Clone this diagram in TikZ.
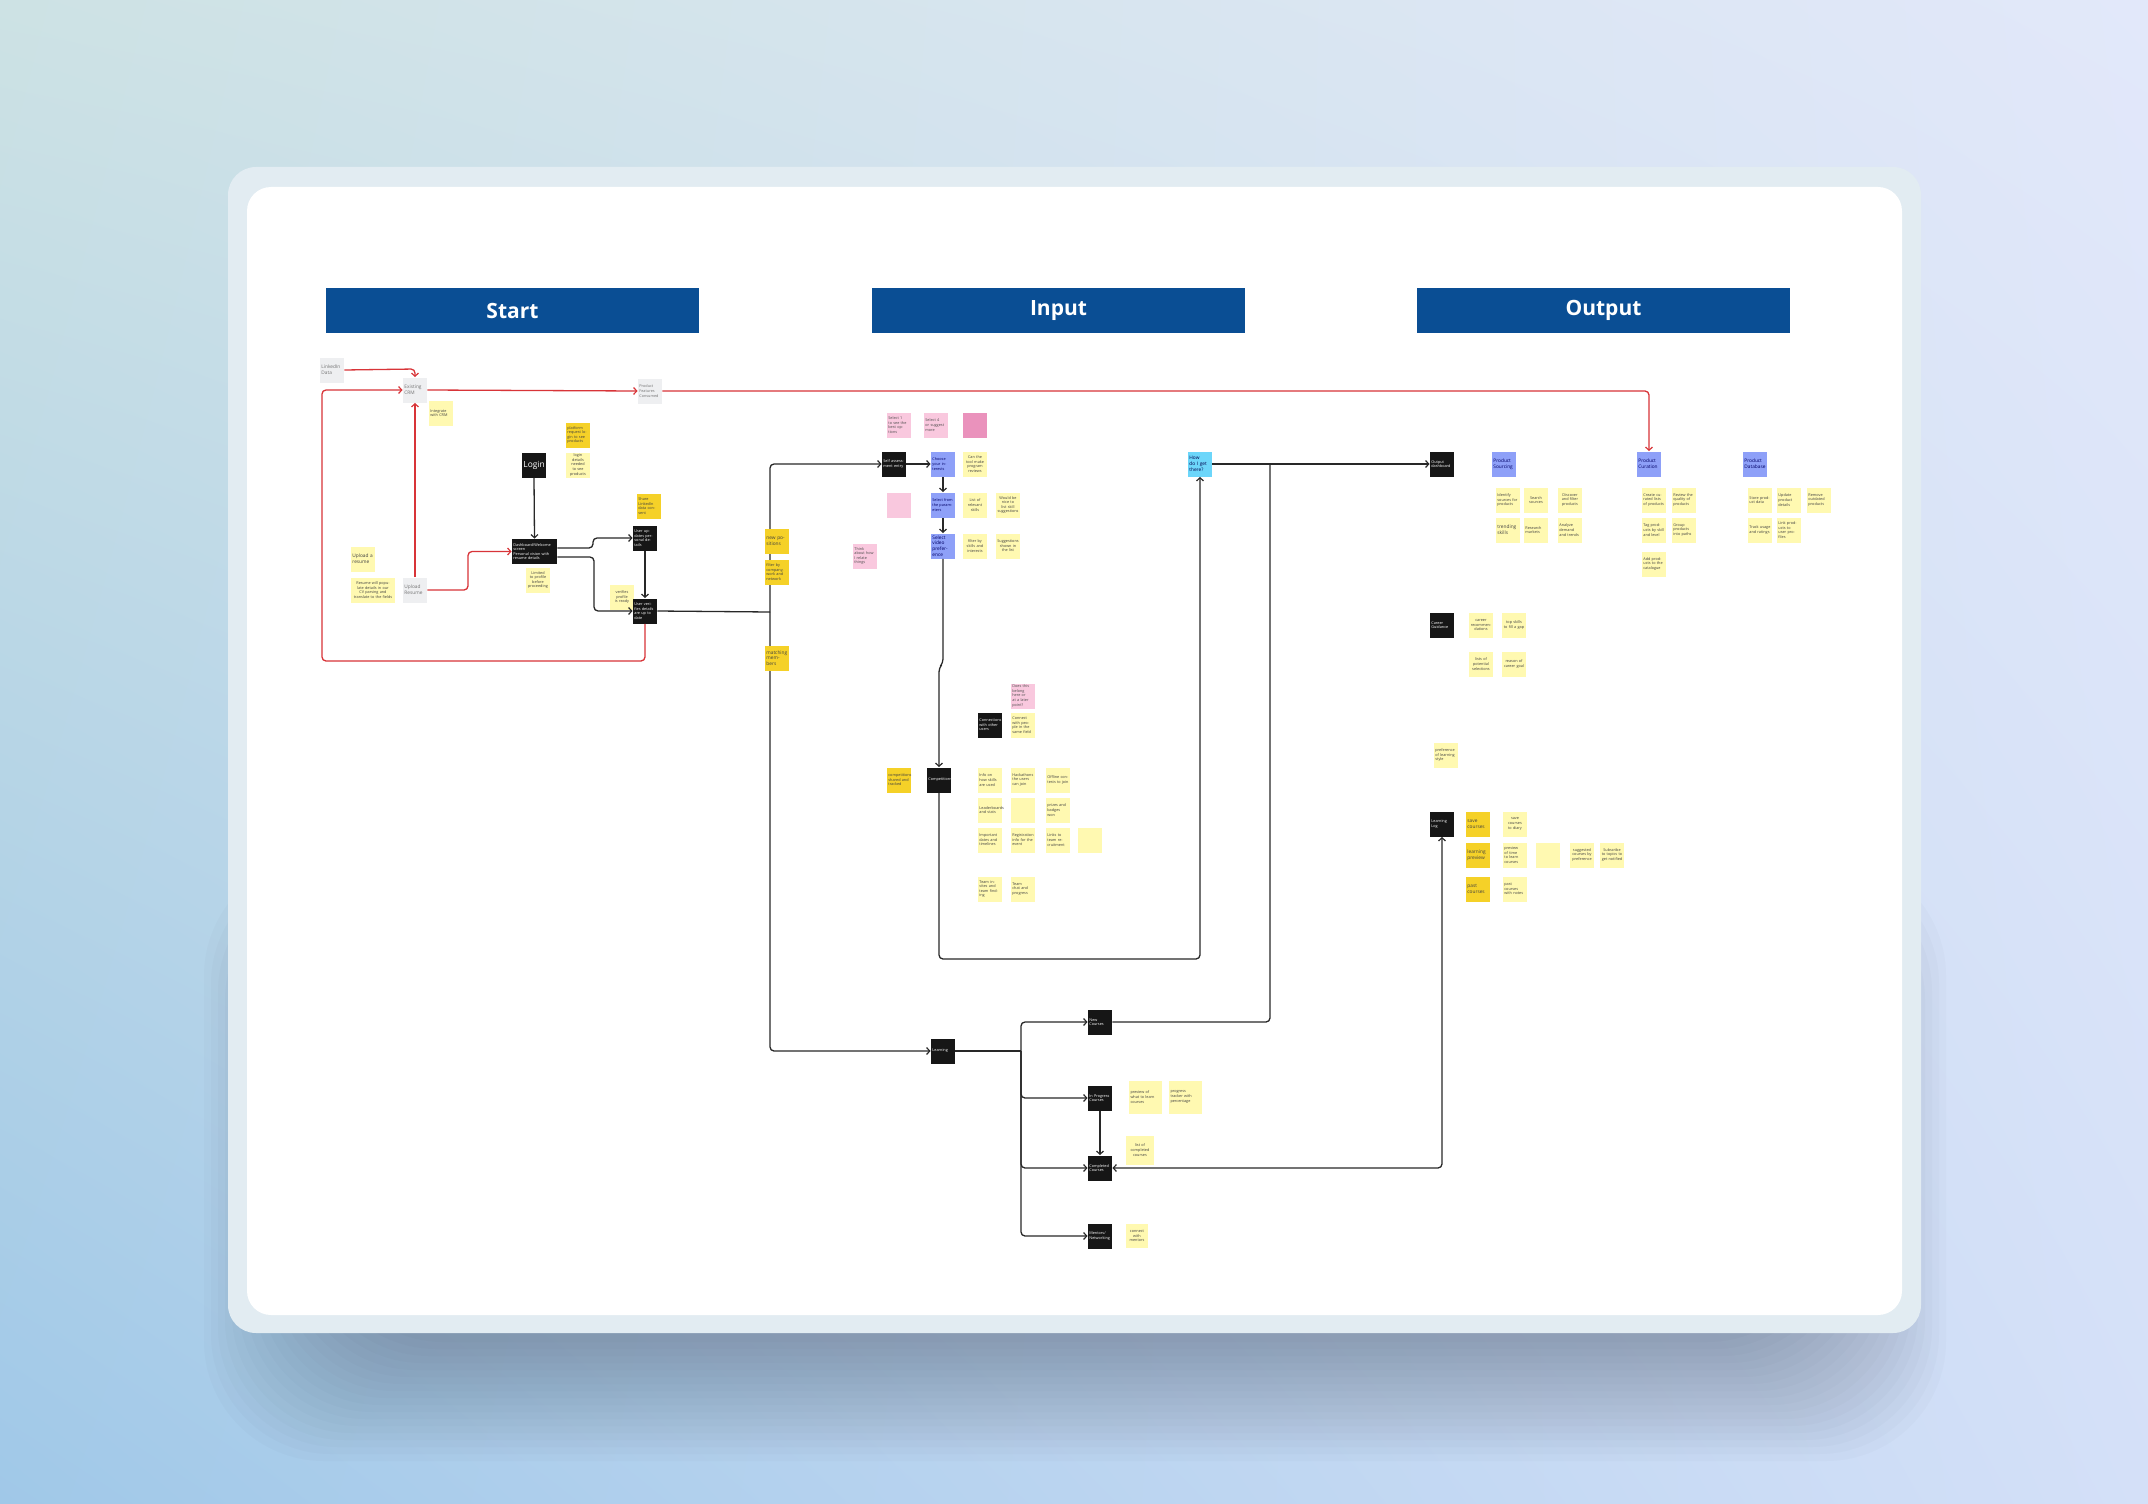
\documentclass[tikz,border=0pt]{standalone}
\usepackage{fontspec}
\setmainfont{Open Sans}
\usetikzlibrary{arrows.meta,calc,shadings}
\definecolor{hdr}{RGB}{10,78,148}
\definecolor{ylw}{RGB}{255,249,177}
\definecolor{gld}{RGB}{245,209,40}
\definecolor{pnk}{RGB}{249,200,222}
\definecolor{dpk}{RGB}{234,146,188}
\definecolor{blu}{RGB}{142,160,248}
\definecolor{cyn}{RGB}{108,214,250}
\definecolor{gry}{RGB}{238,239,241}
\definecolor{redl}{RGB}{216,52,56}
\definecolor{blk}{RGB}{22,22,22}
\definecolor{lnk}{RGB}{40,40,40}
\definecolor{bgTL}{RGB}{205,226,228}
\definecolor{bgTR}{RGB}{226,232,250}
\definecolor{bgBL}{RGB}{160,200,232}
\definecolor{bgBR}{RGB}{212,224,248}
\definecolor{frm}{RGB}{226,236,242}
\definecolor{shd}{RGB}{60,70,90}
\tikzset{
  sticky/.style={minimum width=12pt, minimum height=12.5pt, inner sep=0.7pt,
    text width=10.6pt, align=left, font=\fontsize{1.9}{2.3}\selectfont},
  big/.style={font=\fontsize{2.4}{2.9}\selectfont},
  ys/.style={sticky, fill=ylw, text=black!75},
  gs/.style={sticky, fill=gld, text=black!75},
  pks/.style={sticky, fill=pnk, text=black!70},
  dpks/.style={sticky, fill=dpk, text=black!70},
  bls/.style={sticky, fill=blu, text=blue!40!black},
  cys/.style={sticky, fill=cyn, text=blue!30!black},
  grs/.style={sticky, fill=gry, text=black!55},
  bks/.style={sticky, fill=blk, text=white},
  wide/.style={minimum width=22.5pt, text width=21.1pt},
  hdrbox/.style={fill=hdr, minimum width=186.5pt, minimum height=22.5pt, inner sep=0pt,
    text=white, font=\fontsize{10.5}{12}\selectfont\bfseries},
  arr/.style={draw=lnk, line width=0.65pt, rounded corners=2pt,
    -{Straight Barb[length=1.6pt,width=3.4pt,line width=0.6pt]}},
  ln/.style={draw=lnk, line width=0.65pt, rounded corners=2pt},
  rarr/.style={draw=redl, line width=0.65pt, rounded corners=2pt,
    -{Straight Barb[length=1.6pt,width=3.4pt,line width=0.6pt]}},
  darr/.style={draw=lnk, line width=0.65pt, rounded corners=2pt,
    {Straight Barb[length=1.6pt,width=3.4pt,line width=0.6pt]}-{Straight Barb[length=1.6pt,width=3.4pt,line width=0.6pt]}},
}
\begin{document}
\begin{tikzpicture}[x=0.5pt,y=-0.5pt]
\useasboundingbox (0,0) rectangle (2148,1504);
% background
\shade[upper left=bgTL, upper right=bgTR, lower left=bgBL, lower right=bgBR] (0,0) rectangle (2148,1504);
% card shadow
\foreach \i in {1,...,18}{
  \fill[shd, opacity=0.022, rounded corners=60pt] (330-\i*7,1000-\i*8) rectangle (1820+\i*7,1335+\i*7);
}
% card
\path[fill=frm, rounded corners=14pt] (228,167) rectangle (1921,1333);
\path[fill=white, rounded corners=12pt] (247,187) rectangle (1902,1315);

% headers
\node[hdrbox] (hS) at (512.5,310.5) {Start};
\node[hdrbox] (hI) at (1058.5,310.5) {Input};
\node[hdrbox] (hO) at (1603.5,310.5) {Output};

% ---------------- Start ----------------
\node[grs, big] (lkd) at (332,370) {LinkedIn Data};
\node[grs, big] (crm) at (415,390) {Existing CRM};
\node[ys] (int) at (441,413) {Integrate with CRM};
\node[grs] (pfc) at (650,391) {Product Features Consumed};
\node[grs, big] (upr) at (415,590) {Upload Resume};
\node[ys, big] (upa) at (363,559) {Upload a resume};
\node[ys, minimum width=22pt, text width=20.6pt, align=center] (upn) at (373,590) {Resume will populate details in our CV parsing and translate to the fields};
\node[bks, align=center, font=\fontsize{4.2}{5}\selectfont] (login) at (534,465) {Login};
\node[bks, wide] (dash) at (534.5,551.5) {Dashboard/Welcome screen\\Personal vision with resume details};
\node[ys, align=center] (dn) at (538,580) {Limited to profile before proceeding};
\node[gs] (g1) at (578,435) {platform request login to see products};
\node[ys, align=center] (y1) at (578,465) {login details needed to see products};
\node[gs] (g2) at (649,506) {Share LinkedIn data consent};
\node[bks] (upd) at (645,538) {User updates personal details};
\node[ys, align=center] (vn) at (622,597) {verifies profile is ready};
\node[bks] (ver) at (645,611) {User verifies details are up to date};

\coordinate (lkj) at (415,369);
\draw[rarr] (lkd.east) -- (lkj) -- (crm.north);
\draw[rarr] (crm.east) -- (pfc.west);
\draw[rarr] (upr.north) -- (crm.south);
\coordinate (rj) at (468,590);
\draw[rarr] (upr.east) -- (rj) |- (dash.west);
\coordinate (lpA) at (322,661);
\draw[rarr] (ver.south) |- (lpA) |- (crm.west);
\draw[arr] (login.south) -- (dash.north);
\coordinate (d1) at (593,548);
\coordinate (d2) at (594,557);
\draw[arr] ($(dash.east)+(0,-3.5)$) -- (d1) |- (upd.west);
\draw[arr] ($(dash.east)+(0,5.5)$) -- (d2) |- (ver.west);
\draw[arr] (upd.south) -- (ver.north);

% ---------------- trunk ----------------
\coordinate (tj) at (770,612);
\node[bks] (ai) at (894,464) {Self assessment entry};
\node[bks] (lrn) at (943,1051) {Learning};
\draw[ln] (ver.east) -- (tj);
\draw[arr] (tj) |- (ai.west);
\draw[arr] (tj) |- (lrn.west);
\node[gs, big] (t1) at (777,541) {new positions};
\node[gs] (t2) at (777,572) {filter by company, work and network};
\node[gs, big] (t3) at (777,658) {matching members};

% ---------------- Input ----------------
\node[pks] (p1) at (899,425) {Select 1 to see the best options};
\node[pks] (p2) at (936,425) {Select 4 or suggest more};
\node[dpks] (p3) at (975,425) {};
\node[bls] (b1) at (943,464) {Choose your interests};
\node[bls] (b2) at (943,505) {Select from the parameters};
\node[bls, big] (b3) at (943,546) {Select video preference};
\node[ys, align=center] (yl1) at (975,464) {Can the tool make program reviews};
\node[pks] (pk4) at (899,505) {};
\node[ys, align=center] (yl2) at (975,505) {List of relevant skills};
\node[ys, align=center] (yl3) at (1008,505) {Would be nice to list skill suggestions};
\node[ys, align=center] (yl4) at (975,546) {filter by skills and interests};
\node[ys, align=center] (yl5) at (1008,546) {Suggestions shown in the list};
\node[pks] (pk5) at (865,556) {Think about how I relate things};
\draw[arr] (ai.east) -- (b1.west);
\draw[arr] (b1.south) -- (b2.north);
\draw[arr] (b2.south) -- (b3.north);

\node[bks, align=center] (comp) at (939,780) {Competitions};
\node[gs] (cg) at (899,780) {competitions shared and tracked};
\coordinate (v1) at (943,663);
\coordinate (v2) at (939,668);
\draw[arr] (b3.south) -- (v1) -- (v2) -- (comp.north);

\node[pks] (pk6) at (1023,696) {Does this belong here or at a later point?};
\node[bks] (bk2) at (990,725) {Connections with other users};
\node[ys] (c0) at (1023,725) {Connect with people in the same field};
\node[ys] (c11) at (990,780) {Info on how skills are used};
\node[ys] (c12) at (1023,780) {Hackathons the users can join};
\node[ys] (c13) at (1058,780) {Offline contests to join};
\node[ys] (c21) at (990,810) {Leaderboards and stats};
\node[ys] (c22) at (1023,810) {};
\node[ys] (c23) at (1058,810) {prizes and badges won};
\node[ys] (c31) at (990,840) {Important dates and timelines};
\node[ys] (c32) at (1023,840) {Registration info for the event};
\node[ys] (c33) at (1058,840) {Links to team recruitment};
\node[ys] (c34) at (1090,840) {};
\node[ys] (c41) at (990,889) {Team invites and team finding};
\node[ys] (c42) at (1023,889) {Team chat and progress};

\node[cys, big] (how) at (1200,464) {How do I get there?};
\coordinate (cj) at (939,959);
\draw[arr] (comp.south) -- (cj) -| (how.south);

% ---------------- Learning ----------------
\node[bks] (new) at (1100,1022) {New Courses};
\node[bks] (inp) at (1100,1098) {In Progress Courses};
\node[bks] (cpl) at (1100,1168) {Completed Courses};
\node[bks] (men) at (1100,1236) {Mentors/ Networking};
\coordinate (bj) at (1021,1051);
\draw[ln] (lrn.east) -- (bj);
\draw[arr] (bj) |- (new.west);
\draw[arr] (bj) |- (inp.west);
\draw[arr] (bj) |- (cpl.west);
\draw[arr] (bj) |- (men.west);
\draw[arr] (inp.south) -- (cpl.north);
\node[ys, minimum width=16.5pt, minimum height=16.5pt, text width=14.5pt] (n1) at (1145,1097) {preview of what to learn courses};
\node[ys, minimum width=16.5pt, minimum height=16.5pt, text width=14.5pt] (n2) at (1185,1097) {progress tracker with percentage};
\node[ys, minimum width=14pt, minimum height=14.5pt, text width=12.4pt, align=center] (n3) at (1140,1150) {list of completed courses};
\node[ys, minimum width=11pt, minimum height=12pt, text width=9.6pt, align=center] (n4) at (1137,1236) {connect with mentors};

% ---------------- Output ----------------
\node[bks] (out1) at (1442,464) {Output dashboard};
\coordinate (oj) at (1270,464);
\draw[arr] (how.east) -- (out1.west);
\draw[ln] (new.east) -| (oj);

\node[bls, big] (ps) at (1504,464) {Product Sourcing};
\node[bls, big] (pc) at (1649,464) {Product Curation};
\node[bls, big] (pd) at (1755,464) {Product Database};
\draw[rarr] (pfc.east) -| (pc.north);

\node[ys] (s11) at (1508,500) {Identify sources for products};
\node[ys, align=center] (s12) at (1536,500) {Search sources};
\node[ys, align=center] (s13) at (1570,500) {Discover and filter products};
\node[ys, big] (s21) at (1508,530) {trending skills};
\node[ys] (s22) at (1536,530) {Research markets};
\node[ys] (s23) at (1570,530) {Analyze demand and trends};
\node[ys] (u11) at (1654,500) {Create curated lists of products};
\node[ys] (u12) at (1684,500) {Review the quality of products};
\node[ys] (u21) at (1654,530) {Tag products by skill and level};
\node[ys] (u22) at (1684,530) {Group products into paths};
\node[ys] (u31) at (1654,564) {Add products to the catalogue};
\node[ys] (d11) at (1760,500) {Store product data};
\node[ys] (d12) at (1789,500) {Update product details};
\node[ys] (d13) at (1819,500) {Remove outdated products};
\node[ys] (d21) at (1760,530) {Track usage and ratings};
\node[ys] (d22) at (1789,530) {Link products to user profiles};

\node[bks] (cgd) at (1442,625) {Career Guidance};
\node[ys, align=center] (g11) at (1481,625) {career recommen\-dations};
\node[ys, align=center] (g12) at (1514,625) {top skills to fill a gap};
\node[ys, align=center] (g21) at (1481,664) {lists of potential selections};
\node[ys, align=center] (g22) at (1514,664) {reason of career goal};
\node[ys] (pls) at (1446,755) {preference of learning style};

\node[bks] (ll) at (1442,824) {Learning Log};
\node[gs, big] (l1) at (1478,824) {save courses};
\node[gs, big] (l2) at (1478,855) {learning preview};
\node[gs, big] (l3) at (1478,889) {past courses};
\node[ys, align=center] (m1) at (1515,824) {save courses to diary};
\node[ys] (m2) at (1515,855) {preview of time to learn courses};
\node[ys] (m3) at (1548,855) {};
\node[ys, align=center] (m4) at (1582,855) {suggested courses by preference};
\node[ys, align=center] (m5) at (1612,855) {Subscribe to topics to get notified};
\node[ys] (m6) at (1515,889) {past courses with notes};
\draw[darr] (cpl.east) -| (ll.south);
\end{tikzpicture}
\end{document}
